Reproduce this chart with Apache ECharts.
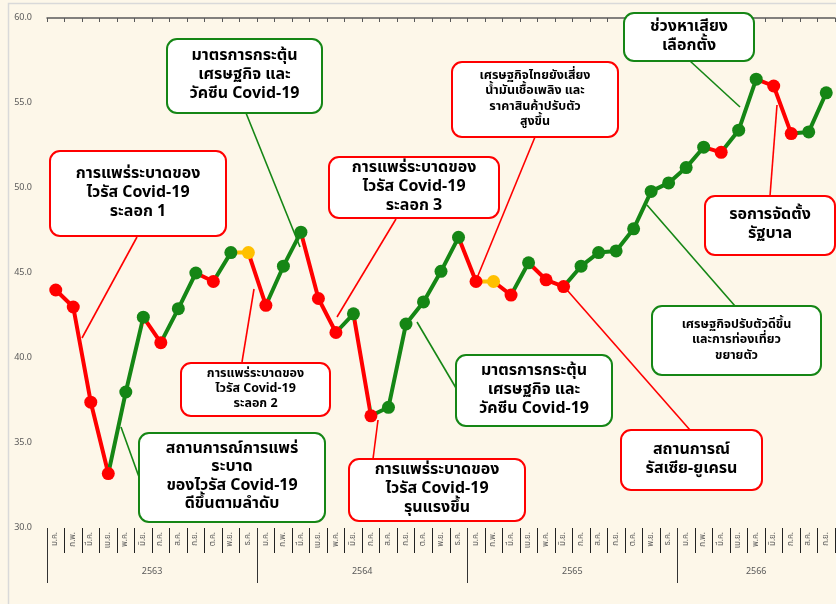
<!DOCTYPE html>
<html>
<head>
<meta charset="utf-8">
<script src="https://cdn.jsdelivr.net/npm/echarts@6/dist/echarts.min.js"></script>
<style>
html,body{margin:0;padding:0;background:#FDF7E9;}
#c{width:836px;height:604px;}
</style>
</head>
<body>
<div id="c"></div>
<script>
// ---- data ----
const monthNames = ['ม.ค.','ก.พ.','มี.ค.','เม.ย.','พ.ค.','มิ.ย.','ก.ค.','ส.ค.','ก.ย.','ต.ค.','พ.ย.','ธ.ค.'];
const years = ['2563','2564','2565','2566'];
const monthsPerYear = [12,12,12,9];
const values = [
  44.0,43.0,37.4,33.2,38.0,42.4,40.9,42.9,45.0,44.5,46.2,46.2,
  43.1,45.4,47.4,43.5,41.5,42.6,36.6,37.1,42.0,43.3,45.1,47.1,
  44.5,44.5,43.7,45.6,44.6,44.2,45.4,46.2,46.3,47.6,49.8,50.3,
  51.2,52.4,52.1,53.4,56.4,56.0,53.2,53.3,55.6
];
const yTicks = {min:30, max:60, interval:5};

const GREEN = '#158615', RED = '#FF0000', ORANGE = '#FFC000';
const FONT = '"Noto Sans Thai","Noto Sans","Open Sans",sans-serif';

// categories
const categories = [];
years.forEach((y, yi) => { for (let m = 0; m < monthsPerYear[yi]; m++) categories.push(monthNames[m]); });
// half-month slots for the year level (boundaries)
const yearSlots = [];
const yearTickIdx = [], yearLabelIdx = {};
let acc = 0;
years.forEach((y, yi) => {
  yearTickIdx.push(acc * 2);
  yearLabelIdx[acc * 2 + monthsPerYear[yi]] = y;
  acc += monthsPerYear[yi];
});
for (let k = 0; k <= acc * 2; k++) yearSlots.push(yearLabelIdx[k] || '');

// segment colours
const segColor = [];
for (let i = 0; i < values.length - 1; i++) {
  segColor.push(values[i+1] > values[i] ? GREEN : (values[i+1] < values[i] ? RED : ORANGE));
}
const pointColor = values.map((v, i) => i === 0 ? RED : segColor[i-1]);
const pieces = segColor.map((c, i) => ({gte: i, lt: i + 1, color: c}));
pieces.push({gte: values.length - 1, lte: values.length, color: segColor[segColor.length-1]});

// ---- annotations (layout) ----
const notes = [
  {box:[50,151,226,236], c:RED, fs:16, lh:19, t:'การแพร่ระบาดของ\nไวรัส Covid-19\nระลอก 1', l:[137,237,82,338]},
  {box:[167,39,322,113], c:GREEN, fs:16, lh:19, t:'มาตรการกระตุ้น\nเศรษฐกิจ และ\nวัคซีน Covid-19', l:[246,113,300,247]},
  {box:[329,157,499,218], c:RED, fs:16, lh:19, t:'การแพร่ระบาดของ\nไวรัส Covid-19\nระลอก 3', l:[396,219,337,317]},
  {box:[181,363,330,416], c:RED, fs:12.5, lh:15, t:'การแพร่ระบาดของ\nไวรัส Covid-19\nระลอก 2', l:[242,362,254,289]},
  {box:[139,433,325,522], c:GREEN, fs:16, lh:18.5, t:'สถานการณ์การแพร่\nระบาด\nของไวรัส Covid-19\nดีขึ้นตามลำดับ', l:[139,477,121,427]},
  {box:[349,459,525,521], c:RED, fs:16, lh:19, t:'การแพร่ระบาดของ\nไวรัส Covid-19\nรุนแรงขึ้น', l:[373,459,378,420]},
  {box:[456,355,612,426], c:GREEN, fs:16, lh:19, t:'มาตรการกระตุ้น\nเศรษฐกิจ และ\nวัคซีน Covid-19', l:[456,388,417,322]},
  {box:[452,62,618,137], c:RED, fs:12.5, lh:15.5, t:'เศรษฐกิจไทยยังเสี่ยง\nน้ำมันเชื้อเพลิง และ\nราคาสินค้าปรับตัว\nสูงขึ้น', l:[535,137,477,278]},
  {box:[621,430,762,490], c:RED, fs:16, lh:19, t:'สถานการณ์\nรัสเซีย-ยูเครน', l:[690,430,567,290]},
  {box:[652,306,821,375], c:GREEN, fs:12.5, lh:15.5, t:'เศรษฐกิจปรับตัวดีขึ้น\nและการท่องเที่ยว\nขยายตัว', l:[735,306,647,205]},
  {box:[624,13,754,61], c:GREEN, fs:16, lh:19, t:'ช่วงหาเสียง\nเลือกตั้ง', l:[690,61,740,107]},
  {box:[705,196,835,255], c:RED, fs:16, lh:19, t:'รอการจัดตั้ง\nรัฐบาล', l:[770,196,777,105]}
];

const graphics = [
  {type:'rect', shape:{x:8.5, y:3.5, width:1000, height:1000}, style:{fill:null, stroke:'#D9D9D9', lineWidth:1.5}, z:-1, silent:true}
];
notes.forEach(n => {
  graphics.push({type:'line', shape:{x1:n.l[0], y1:n.l[1], x2:n.l[2], y2:n.l[3]}, style:{stroke:n.c, lineWidth:1.6}, z:50});
});
notes.forEach(n => {
  const [x1,y1,x2,y2] = n.box;
  graphics.push({type:'rect', shape:{x:x1, y:y1, width:x2-x1, height:y2-y1, r:10},
    style:{fill:'#FFFFFF', stroke:n.c, lineWidth:2}, z:60});
  graphics.push({type:'text', x:(x1+x2)/2, y:(y1+y2)/2,
    style:{text:n.t, fill:'#000', font:'bold ' + n.fs + 'px ' + FONT, align:'center', verticalAlign:'middle', lineHeight:n.lh}, z:61});
});

const chart = echarts.init(document.getElementById('c'), null, {renderer:'canvas'});
chart.setOption({
  backgroundColor:'#FDF7E9',
  animation:false,
  textStyle:{fontFamily:FONT},
  grid:{left:47, top:18, width:788, bottom:76, containLabel:false},
  xAxis:[
    {type:'category', data:categories, position:'bottom', boundaryGap:true,
     axisLine:{show:false},
     axisTick:{show:true, interval:0, length:25, lineStyle:{color:'#222', width:1}},
     axisLabel:{interval:0, rotate:90, fontSize:8, color:'#595959', margin:4}},
    {type:'category', data:yearSlots, position:'bottom', boundaryGap:false,
     axisLine:{show:false},
     axisTick:{show:true, length:55, interval:(i) => yearTickIdx.indexOf(i) >= 0, lineStyle:{color:'#333', width:1}},
     axisLabel:{interval:(i, v) => v !== '', fontSize:9, color:'#595959', margin:40}},
    {type:'category', data:categories, position:'top', boundaryGap:true,
     axisLine:{show:true, lineStyle:{color:'#595959', width:1.5}},
     axisTick:{show:true, interval:0, inside:true, length:4, lineStyle:{color:'#595959'}},
     axisLabel:{show:false}}
  ],
  yAxis:{type:'value', min:yTicks.min, max:yTicks.max, interval:yTicks.interval,
    axisLine:{show:false}, axisTick:{show:false}, splitLine:{show:false},
    axisLabel:{formatter:(v) => v.toFixed(1), fontSize:9, color:'#595959', margin:15}},
  visualMap:{show:false, type:'piecewise', dimension:0, seriesIndex:0, pieces:pieces},
  series:[
    {type:'line', data:values, xAxisIndex:0, showSymbol:false, lineStyle:{width:4}, z:2},
    {type:'scatter', data:values, xAxisIndex:0, symbolSize:13, z:3,
     itemStyle:{color:(p) => pointColor[p.dataIndex], opacity:1}}
  ],
  graphic:graphics
});
</script>
</body>
</html>
